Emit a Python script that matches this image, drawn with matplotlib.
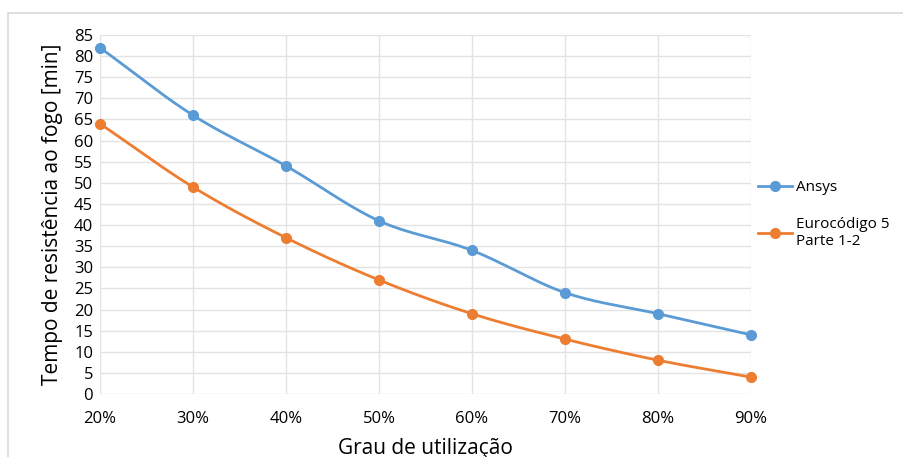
import numpy as np
import matplotlib.pyplot as plt
from matplotlib.patches import Rectangle

grau = [20, 30, 40, 50, 60, 70, 80, 90]
ansys = [82, 66, 54, 41, 34, 24, 19, 14]
eurocodigo = [64, 49, 37, 27, 19, 13, 8, 4]
xlabels = ['20%', '30%', '40%', '50%', '60%', '70%', '80%', '90%']


def smooth(x, y, n=20):
    # catmull-rom curve through the points, like excel's smoothed line
    x = np.asarray(x, float)
    y = np.asarray(y, float)
    px = np.concatenate([[2 * x[0] - x[1]], x, [2 * x[-1] - x[-2]]])
    py = np.concatenate([[2 * y[0] - y[1]], y, [2 * y[-1] - y[-2]]])
    xs, ys = [], []
    t = np.linspace(0, 1, n)
    for i in range(1, len(px) - 2):
        for p, out in ((px, xs), (py, ys)):
            p0, p1, p2, p3 = p[i - 1], p[i], p[i + 1], p[i + 2]
            out.extend(0.5 * (2 * p1 + (-p0 + p2) * t
                              + (2 * p0 - 5 * p1 + 4 * p2 - p3) * t ** 2
                              + (-p0 + 3 * p1 - 3 * p2 + p3) * t ** 3))
    return xs, ys


plt.rcParams['font.family'] = ['Open Sans', 'DejaVu Sans']

fig = plt.figure(figsize=(9.04, 4.57), dpi=100)
fig.patches.append(Rectangle((8 / 904, -0.1), 1.2, 1 - 13 / 457 + 0.1,
                             transform=fig.transFigure, fill=False,
                             edgecolor='#d9d9d9', linewidth=1.2))
ax = fig.add_axes([100 / 904, 1 - 394 / 457, 651 / 904, 359 / 457])

blue = '#5b9bd5'
orange = '#ed7d31'
for vals, col, lab in ((ansys, blue, 'Ansys'),
                       (eurocodigo, orange, 'Eurocódigo 5\nParte 1-2')):
    sx, sy = smooth(grau, vals)
    ax.plot(sx, sy, color=col, linewidth=2, clip_on=False)
    ax.plot(grau, vals, 'o', color=col, markersize=7, clip_on=False)
    ax.plot([], [], '-o', color=col, linewidth=2, markersize=7, label=lab)

ax.set_xlim(20, 90)
ax.set_ylim(0, 85)
ax.set_xticks(grau)
ax.set_xticklabels(xlabels)
ax.set_yticks(range(0, 90, 5))
ax.grid(True, color='#e3e3e3', linewidth=1)
ax.set_axisbelow(True)
for s in ax.spines.values():
    s.set_visible(False)
ax.tick_params(length=0, labelsize=12, colors='#000000', pad=5)
ax.tick_params(axis='x', pad=12)
ax.set_xlabel('Grau de utilização', fontsize=15, labelpad=8)
ax.set_ylabel('Tempo de resistência ao fogo [min]', fontsize=15, labelpad=8)

ax.legend(loc='center left', bbox_to_anchor=(0.99, 0.5), frameon=False,
          fontsize=11, handlelength=2.2, labelspacing=1.4, handletextpad=0.25)

fig.savefig('out.png', dpi=100)
